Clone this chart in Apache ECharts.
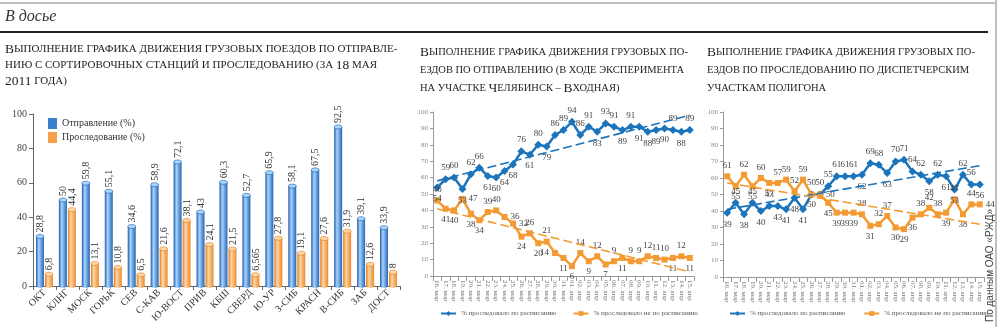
<!DOCTYPE html>
<html><head><meta charset="utf-8">
<script src="https://cdn.jsdelivr.net/npm/echarts@6/dist/echarts.min.js"></script>
<style>html,body{margin:0;padding:0;background:#fff}#c{width:1000px;height:327px}</style>
</head><body><div id="c"></div>
<script>
// ---- Left chart data
const roads = ['ОКТ','КЛНГ','МОСК','ГОРЬК','СЕВ','С-КАВ','Ю-ВОСТ','ПРИВ','КБШ','СВЕРД','Ю-УР','З-СИБ','КРАСН','В-СИБ','ЗАБ','ДОСТ'];
const departure = [28.8,50,59.8,55.1,34.6,58.9,72.1,43,60.3,52.7,65.9,58.1,67.5,92.5,39.1,33.9];
const passage = [6.8,44.4,13.1,10.8,6.5,21.6,38.1,24.1,21.5,6.565,27.8,19.1,27.6,31.9,12.6,8];
const leftTicks = [0,20,40,60,80,100];

// ---- Middle & right chart data
const dates = ['16. мар','17. мар','18. мар','19. мар','20. мар','21. мар','22. мар','23. мар','24. мар','25. мар','26. мар','27. мар','28. мар','29. мар','30. мар','31. мар','01. апр','02. апр','03. апр','04. апр','05. апр','06. апр','07. апр','08. апр','09. апр','10. апр','11. апр','12. апр','13. апр','14. апр','15. апр'];
const midOnTime = [54,59,60,53,62,66,61,60,64,68,76,74,80,79,86,89,94,86,91,88,93,91,89,91,91,88,89,90,89,88,89];
const midOnTimeText = ['54','59','60','53','62','66','61','60','64','68','76','61','80','79','86','89','94','86','91','83','93','91','89','91','91','88','89','90','89','88','89'];
const midLate = [46,41,40,47,38,34,39,40,36,32,24,26,20,21,14,11,6,14,9,12,7,9,11,9,9,12,11,10,11,12,11];
const midTrendOnTime = [58,98];
const midTrendLate = [41,2.5];
const rightOnTime = [39,45,38,45,40,43,43,41,48,41,50,50,55,61,61,61,62,69,68,63,70,71,64,62,58,62,61,53,62,56,56];
const rightLate = [61,55,62,55,60,57,57,59,52,59,50,50,45,39,39,39,38,31,32,37,30,29,36,38,42,38,39,47,38,44,44];
const rightTrendOnTime = [41,67.5];
const rightTrendLate = [57,32];

// label placement (style, not data)
const midOnTimePos = 'bttbttbbbbtbtbtttttbttbtbbbbtbt'.split('');
const midLatePos = 'tbbrbbttrrbtbtlbbtbtbtbtttttbtb'.split('');
const rightOnTimePos = 'btbtbtbbbbttttttbttbttttbtbbttb'.split('');
const rightLatePos = 'tbtbtbttttbrbbbbtbttbbbtttbtbtr'.split('');

const posMap = {t:'top', b:'bottom', r:'right', l:'left'};
const fmt = v => String(v).replace('.', ',');
const SERIF = '"Liberation Serif", "DejaVu Serif", serif';
const BLUE = '#1c74bb', ORANGE = '#f39a33';

function cylinder(offset, c1, c2, c3) {
  return function (params, api) {
    const i = api.value(0), v = api.value(1);
    const top = api.coord([i, v]), base = api.coord([i, 0]);
    const w = 8, cx = top[0] + offset;
    const fill = new echarts.graphic.LinearGradient(0, 0, 1, 0, [
      {offset: 0, color: c1}, {offset: 0.35, color: c2}, {offset: 1, color: c3}]);
    return {type: 'group', children: [
      {type: 'ellipse', shape: {cx: cx, cy: base[1], rx: w / 2, ry: 1.8}, style: {fill: fill}},
      {type: 'rect', shape: {x: cx - w / 2, y: top[1], width: w, height: base[1] - top[1]}, style: {fill: fill}},
      {type: 'ellipse', shape: {cx: cx, cy: top[1], rx: w / 2, ry: 2}, style: {fill: c2, stroke: c1, lineWidth: 0.6}},
      {type: 'text', x: cx + 0.5, y: top[1] - 4, rotation: Math.PI / 2,
        style: {text: fmt(v), fill: '#333', font: '10px ' + SERIF, align: 'left', verticalAlign: 'middle'}}
    ]};
  };
}

function lineSeries(name, vals, texts, pos, color, sym, xi, trend) {
  return {
    type: 'line', name: name, xAxisIndex: xi, yAxisIndex: xi,
    data: vals.map((v, i) => ({value: v, label: {position: posMap[pos[i]] || 'top'}})),
    symbol: sym, symbolSize: sym === 'diamond' ? 8 : 6, showAllSymbol: true,
    lineStyle: {color: color, width: 2.5}, itemStyle: {color: color},
    label: {show: true, distance: 3, color: '#444', fontSize: 9, fontFamily: SERIF,
      formatter: p => texts[p.dataIndex]},
    markLine: {silent: true, symbol: 'none', label: {show: false},
      lineStyle: {color: color, type: [9, 4], width: 1.6},
      data: [[{coord: [0, trend[0]]}, {coord: [dates.length - 1, trend[1]]}]]},
    z: 3
  };
}

function titleLines(x, ys, lines, sc) {
  return lines.map((t, k) => ({
    type: 'text', x: x, y: ys[k],
    style: {text: t, fill: '#1e1e1e', verticalAlign: 'middle',
      rich: {c: {font: '13.5px ' + SERIF, fill: '#1e1e1e'}, s: {font: sc + 'px ' + SERIF, fill: '#1e1e1e'}}}
  }));
}

const chart = echarts.init(document.getElementById('c'), null, {renderer: 'canvas'});
const dateAxis = gi => ({
  type: 'category', gridIndex: gi, data: dates, boundaryGap: true,
  axisLine: {lineStyle: {color: '#999'}}, axisTick: {show: true, lineStyle: {color: '#999'}},
  axisLabel: {interval: 0, rotate: -90, fontSize: 7, color: '#777', fontFamily: SERIF, margin: 4}
});
const pctAxis = gi => ({
  type: 'value', gridIndex: gi, min: 0, max: 100, interval: 10,
  axisLine: {show: true, lineStyle: {color: '#999'}}, axisTick: {show: true, length: 3, lineStyle: {color: '#999'}},
  splitLine: {show: false},
  axisLabel: {fontSize: 7, color: '#888', fontFamily: SERIF, margin: 5}
});
const smallLegend = (names, left) => ({
  data: names, left: left, top: 305, width: 300, itemWidth: 15, itemHeight: 6, itemGap: 16,
  textStyle: {fontSize: 7, color: '#555', fontFamily: SERIF}
});

const option = {
  animation: false,
  backgroundColor: '#fff',
  grid: [
    {left: 33, top: 114, width: 367, height: 172},
    {left: 433, top: 112, width: 261, height: 164},
    {left: 723, top: 112, width: 261, height: 165}
  ],
  xAxis: [
    {type: 'category', gridIndex: 0, data: roads,
      axisLine: {lineStyle: {color: '#666'}}, axisTick: {show: true, length: 4, lineStyle: {color: '#666'}},
      axisLabel: {interval: 0, rotate: 45, fontSize: 10, color: '#333', fontFamily: SERIF, margin: 5}},
    dateAxis(1), dateAxis(2)
  ],
  yAxis: [
    {type: 'value', gridIndex: 0, min: leftTicks[0], max: leftTicks[leftTicks.length - 1], interval: 20,
      axisLine: {show: true, lineStyle: {color: '#666'}}, axisTick: {show: true, length: 4, lineStyle: {color: '#666'}},
      splitLine: {show: false}, axisLabel: {fontSize: 10, color: '#444', fontFamily: SERIF, margin: 6}},
    pctAxis(1), pctAxis(2)
  ],
  legend: [
    {data: ['Отправление (%)', 'Проследование (%)'], left: 43, top: 113, orient: 'vertical', icon: 'rect',
      itemWidth: 9, itemHeight: 11, itemGap: 3, textStyle: {fontSize: 10, color: '#333', fontFamily: SERIF}},
    smallLegend(['% проследовало по расписанию', '% проследовало не по расписанию'], 435),
    smallLegend(['% проследовало по расписанию ', '% проследовало не по расписанию '], 724)
  ],
  series: [
    {type: 'custom', name: 'Отправление (%)', xAxisIndex: 0, yAxisIndex: 0,
      itemStyle: {color: '#3a80cc'}, encode: {x: 0, y: 1},
      data: departure.map((v, i) => [i, v]),
      renderItem: cylinder(-4.5, '#1d5aa6', '#a9d4ff', '#2466b4')},
    {type: 'custom', name: 'Проследование (%)', xAxisIndex: 0, yAxisIndex: 0,
      itemStyle: {color: '#f5a04a'}, encode: {x: 0, y: 1},
      data: passage.map((v, i) => [i, v]),
      renderItem: cylinder(4.5, '#e07a1c', '#ffd6a6', '#ea8a2c')},
    lineSeries('% проследовало по расписанию', midOnTime, midOnTimeText, midOnTimePos, BLUE, 'diamond', 1, midTrendOnTime),
    lineSeries('% проследовало не по расписанию', midLate, midLate.map(String), midLatePos, ORANGE, 'rect', 1, midTrendLate),
    lineSeries('% проследовало по расписанию ', rightOnTime, rightOnTime.map(String), rightOnTimePos, BLUE, 'diamond', 2, rightTrendOnTime),
    lineSeries('% проследовало не по расписанию ', rightLate, rightLate.map(String), rightLatePos, ORANGE, 'rect', 2, rightTrendLate)
  ],
  graphic: [
    {type: 'line', shape: {x1: 0, y1: 3, x2: 995, y2: 3}, style: {stroke: '#aaa', lineWidth: 1.5}},
    {type: 'text', x: 5, y: 17, style: {text: 'В досье', font: 'italic 16px ' + SERIF, fill: '#333', verticalAlign: 'middle'}},
    {type: 'line', shape: {x1: 0, y1: 32, x2: 988, y2: 32}, style: {stroke: '#222', lineWidth: 2}},
    {type: 'line', shape: {x1: 996, y1: 0, x2: 996, y2: 327}, style: {stroke: '#aaa', lineWidth: 1.5}},
    ...titleLines(5, [49, 65, 81], [
      '{c|В}{s|ЫПОЛНЕНИЕ ГРАФИКА ДВИЖЕНИЯ ГРУЗОВЫХ ПОЕЗДОВ ПО ОТПРАВЛЕ-}',
      '{s|НИЮ С СОРТИРОВОЧНЫХ СТАНЦИЙ И ПРОСЛЕДОВАНИЮ (ЗА }{c|18}{s| МАЯ}',
      '{c|2011}{s| ГОДА)}'], 11),
    ...titleLines(420, [52, 70, 88], [
      '{c|В}{s|ЫПОЛНЕНИЕ ГРАФИКА ДВИЖЕНИЯ ГРУЗОВЫХ ПО-}',
      '{s|ЕЗДОВ ПО ОТПРАВЛЕНИЮ (В ХОДЕ ЭКСПЕРИМЕНТА}',
      '{s|НА УЧАСТКЕ }{c|Ч}{s|ЕЛЯБИНСК – }{c|В}{s|ХОДНАЯ)}'], 10.5),
    ...titleLines(707, [52, 70, 88], [
      '{c|В}{s|ЫПОЛНЕНИЕ ГРАФИКА ДВИЖЕНИЯ ГРУЗОВЫХ ПО-}',
      '{s|ЕЗДОВ ПО ПРОСЛЕДОВАНИЮ ПО ДИСПЕТЧЕРСКИМ}',
      '{s|УЧАСТКАМ ПОЛИГОНА}'], 10.5),
    {type: 'text', x: 990, y: 322, rotation: Math.PI / 2,
      style: {text: 'По данным ОАО «РЖД»', font: '10px "Liberation Sans", sans-serif', fill: '#444', align: 'left', verticalAlign: 'middle'}}
  ]
};
chart.setOption(option);
</script>
</body></html>
